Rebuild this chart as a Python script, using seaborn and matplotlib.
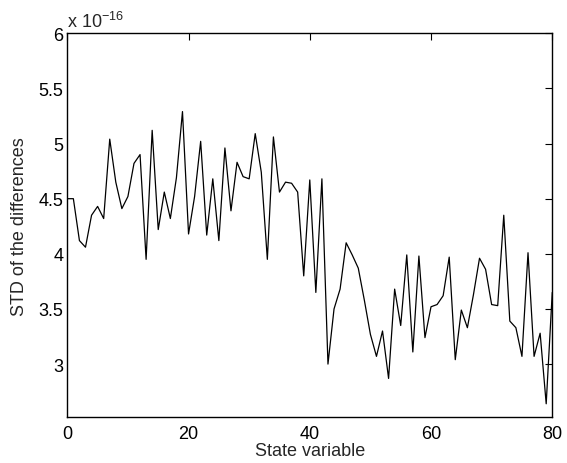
import numpy as np
import matplotlib
matplotlib.use("Agg")
import matplotlib.pyplot as plt
import seaborn as sns
from matplotlib.ticker import FuncFormatter

# data (values in units of 1e-16)
state_var = list(range(0, 81))
std_diff = [
    4.50, 4.50, 4.12, 4.06, 4.35, 4.43, 4.32, 5.04, 4.65, 4.41,
    4.52, 4.82, 4.90, 3.95, 5.12, 4.22, 4.56, 4.32, 4.69, 5.29,
    4.18, 4.52, 5.02, 4.17, 4.68, 4.12, 4.96, 4.39, 4.83, 4.70,
    4.68, 5.09, 4.74, 3.95, 5.06, 4.56, 4.65, 4.64, 4.56, 3.80,
    4.67, 3.65, 4.68, 3.00, 3.50, 3.68, 4.10, 3.99, 3.87, 3.58,
    3.27, 3.07, 3.30, 2.87, 3.68, 3.35, 3.99, 3.11, 3.98, 3.24,
    3.52, 3.54, 3.62, 3.97, 3.04, 3.49, 3.33, 3.63, 3.96, 3.86,
    3.54, 3.53, 4.35, 3.39, 3.33, 3.07, 4.01, 3.07, 3.28, 2.64,
    3.65,
]
scale = 1e-16
y_ticks = [3, 3.5, 4, 4.5, 5, 5.5, 6]
x_ticks = [0, 20, 40, 60, 80]

sns.set_style("white")
plt.rcParams["font.family"] = ["Liberation Sans", "DejaVu Sans"]
plt.rcParams["mathtext.fontset"] = "custom"
plt.rcParams["mathtext.rm"] = "Liberation Sans"

fs = 13
fig = plt.figure(figsize=(5.67, 4.64), dpi=100)
ax = fig.add_axes([0.1187, 0.0991, 0.8553, 0.8270])

sns.lineplot(x=state_var, y=np.array(std_diff) * scale, color="black",
             linewidth=0.9, ax=ax)

ax.set_xlim(0, 80)
ax.set_ylim(2.52 * scale, 6 * scale)
ax.set_xticks(x_ticks)
ax.set_yticks([v * scale for v in y_ticks])
ax.yaxis.set_major_formatter(FuncFormatter(lambda v, p: f"{v / scale:g}"))
ax.yaxis.get_offset_text().set_visible(False)

ax.tick_params(direction="in", length=5, width=0.8, labelsize=fs,
               top=True, right=True, colors="black")
ax.tick_params(axis="y", pad=3)
ax.tick_params(axis="x", pad=6)
for s in ax.spines.values():
    s.set_color("black")
    s.set_linewidth(1.0)

ax.set_xlabel("State variable", fontsize=fs)
ax.set_ylabel("STD of the differences", fontsize=fs)
ax.xaxis.set_label_coords(0.5, -0.066)
ax.yaxis.set_label_coords(-0.081, 0.5)
fig.text(0.118, 0.932, r"x 10$^{-16}$", fontsize=fs, ha="left", va="bottom")

plt.savefig("out.png", dpi=100)
